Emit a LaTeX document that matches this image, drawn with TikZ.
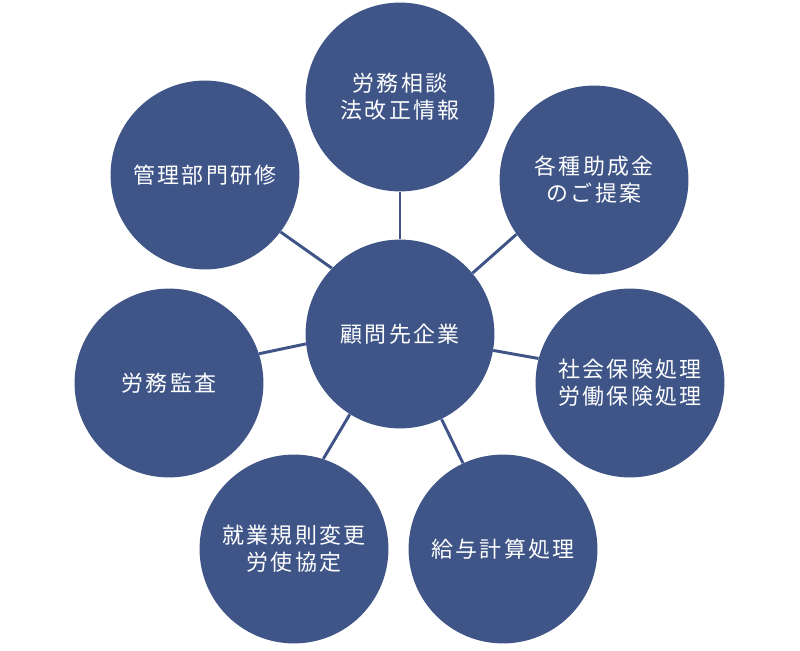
\documentclass[tikz,border=0pt]{standalone}
\usepackage{fontspec}
\setmainfont{Noto Sans CJK JP}[LetterSpace=10]
\usetikzlibrary{positioning}
\definecolor{NavyBlue}{HTML}{3F5588}
\tikzset{
  topic/.style={circle, fill=NavyBlue, draw=none, minimum size=4.72cm, inner sep=0pt, align=center, text=white, font=\fontsize{15.6pt}{19.3pt}\selectfont},
  spoke/.style={draw=NavyBlue, line width=2.1pt}
}

\begin{document}
\begin{tikzpicture}[x=0.025cm, y=-0.025cm]
\useasboundingbox (0,0) rectangle (800,650);
\node[topic] (client) at (400,334) {顧問先企業};
\node[topic] (consult) at (400,97) {労務相談\\法改正情報};
\node[topic] (subsidy) at (594,180) {各種助成金\\のご提案};
\node[topic] (insurance) at (630,383) {社会保険処理\\労働保険処理};
\node[topic] (payroll) at (503,549) {給与計算処理};
\node[topic] (rules) at (294,549) {就業規則変更\\労使協定};
\node[topic] (audit) at (169,383) {労務監査};
\node[topic] (training) at (205,175) {管理部門研修};
% spokes: anchor angle on the centre, name, anchor angle on the outer circle
\foreach \a/\t/\b in {90/consult/270, 40/subsidy/215, 350/insurance/165, 296/payroll/115,
                      238/rules/72, 186/audit/18, 136/training/323}
  \draw[spoke] (client.\a) -- (\t.\b);
\end{tikzpicture}
\end{document}
